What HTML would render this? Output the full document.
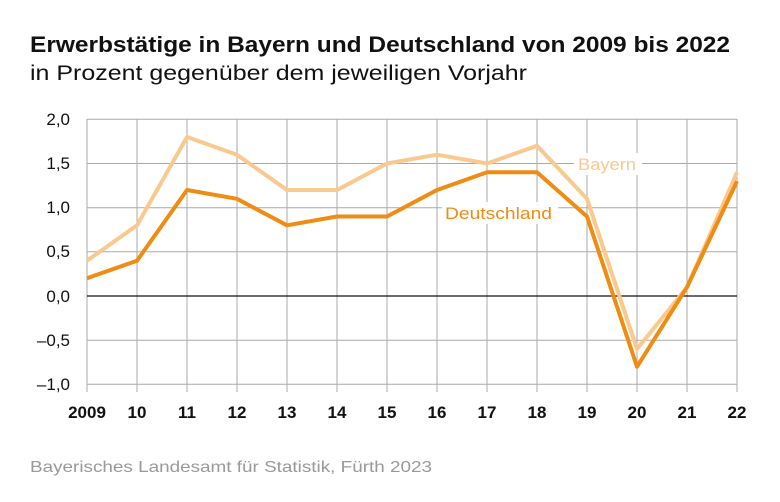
<!DOCTYPE html>
<html><head><meta charset="utf-8"><style>
body{margin:0;background:#fff;width:780px;height:497px;overflow:hidden;font-family:"Liberation Sans",Arial,sans-serif}
</style></head><body>
<svg width="780" height="497" xmlns="http://www.w3.org/2000/svg" font-family="Liberation Sans, Arial, sans-serif">
<text x="30" y="52" font-size="22" font-weight="bold" fill="#111" textLength="700" lengthAdjust="spacingAndGlyphs">Erwerbstätige in Bayern und Deutschland von 2009 bis 2022</text>
<text x="30" y="80" font-size="21" fill="#111" textLength="497" lengthAdjust="spacingAndGlyphs">in Prozent gegenüber dem jeweiligen Vorjahr</text>
<g stroke="#aaa" stroke-width="1">
<line x1="87" y1="119.3" x2="737" y2="119.3"/>
<line x1="87" y1="163.5" x2="737" y2="163.5"/>
<line x1="87" y1="207.7" x2="737" y2="207.7"/>
<line x1="87" y1="251.8" x2="737" y2="251.8"/>
<line x1="87" y1="340.2" x2="737" y2="340.2"/>
<line x1="87" y1="384.3" x2="737" y2="384.3"/>
<line x1="87" y1="119" x2="87" y2="392"/><line x1="137" y1="119" x2="137" y2="392"/><line x1="187" y1="119" x2="187" y2="392"/><line x1="237" y1="119" x2="237" y2="392"/><line x1="287" y1="119" x2="287" y2="392"/><line x1="337" y1="119" x2="337" y2="392"/><line x1="387" y1="119" x2="387" y2="392"/><line x1="437" y1="119" x2="437" y2="392"/><line x1="487" y1="119" x2="487" y2="392"/><line x1="537" y1="119" x2="537" y2="392"/><line x1="587" y1="119" x2="587" y2="392"/><line x1="637" y1="119" x2="637" y2="392"/><line x1="687" y1="119" x2="687" y2="392"/><line x1="737" y1="119" x2="737" y2="392"/>
</g>
<line x1="87" y1="296" x2="737" y2="296" stroke="#111" stroke-width="1.3"/>
<g font-size="17" fill="#111" text-anchor="end">
<text x="70" y="125">2,0</text><text x="70" y="169">1,5</text><text x="70" y="213">1,0</text><text x="70" y="257">0,5</text><text x="70" y="302">0,0</text><text x="70" y="346">–0,5</text><text x="70" y="390">–1,0</text>
</g>
<g font-size="17" font-weight="bold" fill="#111" text-anchor="middle">
<text x="87" y="418">2009</text><text x="137" y="418">10</text><text x="187" y="418">11</text><text x="237" y="418">12</text><text x="287" y="418">13</text><text x="337" y="418">14</text><text x="387" y="418">15</text><text x="437" y="418">16</text><text x="487" y="418">17</text><text x="537" y="418">18</text><text x="587" y="418">19</text><text x="637" y="418">20</text><text x="687" y="418">21</text><text x="737" y="418">22</text>
</g>
<polyline fill="none" stroke="#f9c98f" stroke-width="4" stroke-linejoin="round" points="87,260.7 137,225.3 187,137 237,154.7 287,190 337,190 387,163.5 437,154.7 487,163.5 537,145.8 587,198.8 637,349 687,287.2 737,172.3"/>
<polyline fill="none" stroke="#ef8c14" stroke-width="4" stroke-linejoin="round" points="87,278.3 137,260.7 187,190 237,198.8 287,225.3 337,216.5 387,216.5 437,190 487,172.3 537,172.3 587,216.5 637,366.7 687,287.2 737,181.2"/>
<rect x="574" y="153" width="68" height="22" fill="#fff"/>
<text x="578" y="170" font-size="17" fill="#f9c98f" textLength="58" lengthAdjust="spacingAndGlyphs">Bayern</text>
<rect x="442" y="202" width="116" height="22" fill="#fff"/>
<text x="445" y="219" font-size="17" fill="#ef8c14" textLength="107" lengthAdjust="spacingAndGlyphs">Deutschland</text>
<text x="30" y="472" font-size="16" fill="#999" textLength="402" lengthAdjust="spacingAndGlyphs">Bayerisches Landesamt für Statistik, Fürth 2023</text>
</svg>
</body></html>
